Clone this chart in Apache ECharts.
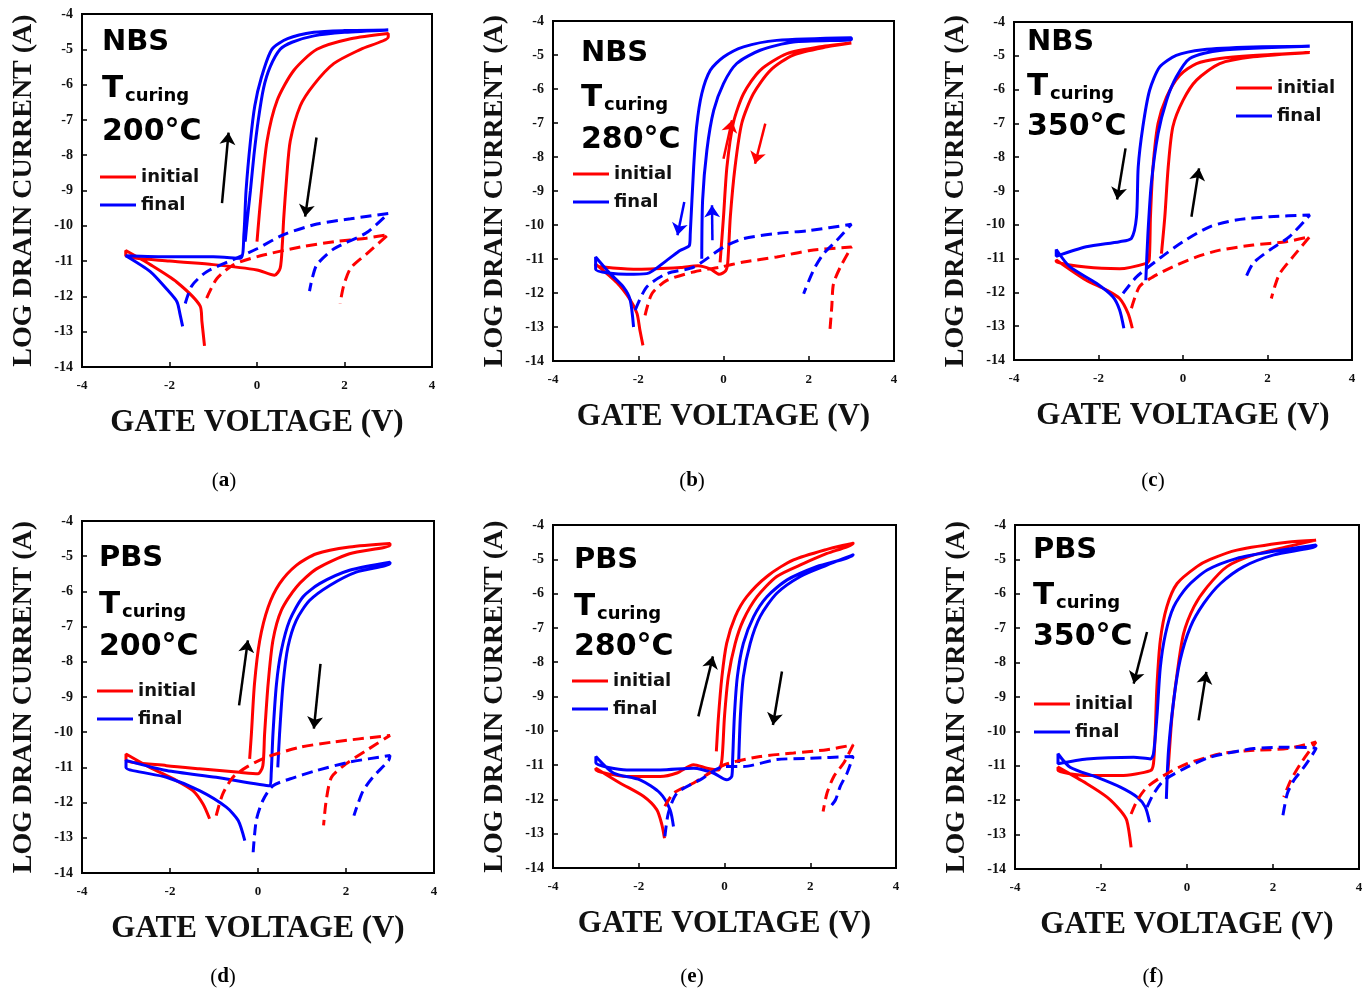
<!DOCTYPE html>
<html><head><meta charset="utf-8">
<script src="https://cdn.jsdelivr.net/npm/echarts@6/dist/echarts.min.js"></script>
<style>html,body{margin:0;padding:0;background:#fff}#c{width:1371px;height:995px}</style>
</head><body><div id="c"></div>
<script>
// ---------- DATA (gate voltage V, log drain current A) ----------
const xTicks = [-4, -2, 0, 2, 4];
const yTicks = [-14, -13, -12, -11, -10, -9, -8, -7, -6, -5, -4];
const captionLetters = ['a', 'b', 'c', 'd', 'e', 'f'];
const stressLabels = ['NBS', 'NBS', 'NBS', 'PBS', 'PBS', 'PBS'];
const curingTemps = ['200°C', '280°C', '350°C', '200°C', '280°C', '350°C'];
const legendNames = ['initial', 'final'];

// (a) NBS 200°C
const aInitial = [[-1.2,-13.4],[-1.26,-12.7],[-1.3,-12.27],[-1.83,-11.6],[-2.44,-11.1],[-3,-10.7],
  [-3,-10.85],[-2,-11.0],[-1,-11.1],[0,-11.25],[0.4,-11.4],[0.53,-11.2],[0.58,-10.5],[0.61,-9.8],[0.68,-8.6],[0.76,-7.6],[0.99,-6.6],[1.3,-6.0],[1.76,-5.4],[2.37,-5.0],[3,-4.65],
  [3,-4.55],[2.14,-4.7],[1.37,-5.0],[0.84,-5.6],[0.46,-6.45],[0.23,-7.6],[0.08,-9.3],[0,-10.45]];
const aFinal = [[-1.7,-12.85],[-1.76,-12.5],[-1.83,-12.15],[-2.06,-11.8],[-2.44,-11.3],[-3,-10.85],
  [-3,-10.85],[-2,-10.88],[-1,-10.88],[-0.38,-10.92],[-0.3,-10.25],[-0.25,-9.0],[-0.15,-7.6],[-0.05,-6.6],[0.1,-5.8],[0.34,-5.0],[0.7,-4.7],[1.3,-4.52],[2,-4.47],[3,-4.45],
  [3,-4.47],[2,-4.52],[1.3,-4.62],[0.8,-4.8],[0.53,-5.0],[0.3,-5.5],[0.15,-6.1],[0.03,-7.0],[-0.07,-8.0],[-0.15,-9.0],[-0.22,-9.8],[-0.27,-10.45]];
const aInitialGate = [[-1.15,-12.05],[-0.92,-11.5],[-0.53,-11.1],[0.08,-10.85],[1.0,-10.6],[1.76,-10.45],[2.5,-10.35],[3,-10.25],[2.5,-10.8],[2.14,-11.2],[1.98,-11.7],[1.9,-12.2]];
const aFinalGate = [[-1.64,-12.2],[-1.49,-11.7],[-1.15,-11.3],[-0.53,-10.95],[0,-10.65],[0.61,-10.25],[1.37,-9.95],[2.14,-9.8],[3,-9.65],[2.5,-10.2],[1.76,-10.65],[1.37,-11.1],[1.26,-11.5],[1.2,-11.85]];
const aArrows = [[[-0.8,-9.36],[-0.65,-7.36]], [[1.36,-7.5],[1.1,-9.74]]];

// (b) NBS 280°C
const bInitial = [[-1.89,-13.54],[-1.96,-13.1],[-2.03,-12.6],[-2.19,-12.2],[-2.5,-11.7],[-3,-11.15],
  [-3,-11.2],[-2,-11.3],[-1,-11.25],[-0.6,-11.2],[-0.3,-11.3],[-0.1,-11.45],[0.05,-11.35],[0.1,-11.1],[0.16,-9.76],[0.27,-8.3],[0.43,-7.0],[0.7,-6.14],[1.1,-5.45],[1.64,-5.0],[2.43,-4.76],[3,-4.65],
  [3,-4.67],[2.27,-4.76],[1.49,-4.96],[0.86,-5.45],[0.47,-6.14],[0.23,-7.0],[0.08,-8.3],[0,-9.76],[-0.08,-11.1]];
const bFinal = [[-2.11,-13.0],[-2.19,-12.2],[-2.35,-11.82],[-2.66,-11.43],[-3,-10.94],
  [-3,-11.3],[-2.27,-11.45],[-1.8,-11.43],[-1.33,-11.04],[-1.02,-10.75],[-0.8,-10.6],[-0.78,-10.25],[-0.7,-8.3],[-0.63,-7.1],[-0.51,-6.14],[-0.31,-5.45],[0,-5.06],[0.47,-4.76],[1.25,-4.57],[3,-4.49],
  [3,-4.55],[1.64,-4.62],[0.86,-4.86],[0.31,-5.25],[0,-5.84],[-0.23,-6.63],[-0.39,-7.8],[-0.49,-9.27],[-0.51,-10.99]];
const bInitialGate = [[-1.84,-12.66],[-1.68,-12.02],[-1.33,-11.63],[-0.7,-11.38],[-0.08,-11.24],[0.47,-11.09],[1.25,-10.94],[2.03,-10.75],[3,-10.65],[2.74,-11.24],[2.58,-11.73],[2.54,-12.41],[2.49,-13.2]];
const bFinalGate = [[-2.07,-12.5],[-1.8,-11.82],[-1.33,-11.43],[-0.7,-11.24],[0,-10.65],[0.47,-10.4],[1.25,-10.25],[2.03,-10.16],[3,-9.98],[2.66,-10.45],[2.35,-10.84],[2.11,-11.33],[1.88,-12.02]];
const bArrows = [[[0,-8.05],[0.2,-6.92]], [[0.98,-7.02],[0.74,-8.2]], [[-0.92,-9.32],[-1.08,-10.3]], [[-0.26,-10.45],[-0.27,-9.42]]];

// (c) NBS 350°C
const cInitial = [[-1.2,-13.06],[-1.3,-12.62],[-1.5,-12.18],[-1.81,-11.93],[-2.29,-11.64],[-3,-11.04],
  [-3,-11.09],[-2.3,-11.25],[-1.5,-11.3],[-0.87,-11.14],[-0.8,-11.04],[-0.77,-9.76],[-0.71,-8.29],[-0.59,-7.0],[-0.39,-6.22],[-0.08,-5.58],[0.32,-5.23],[0.87,-5.08],[1.66,-4.99],[3,-4.9],
  [3,-4.92],[1.66,-5.03],[0.87,-5.23],[0.32,-5.72],[0,-6.32],[-0.24,-7.1],[-0.35,-8.29],[-0.43,-9.76],[-0.51,-10.85]];
const cFinal = [[-1.4,-13.06],[-1.5,-12.52],[-1.66,-12.13],[-2.05,-11.73],[-2.68,-11.24],[-3,-10.73],
  [-3,-10.93],[-2.29,-10.65],[-1.5,-10.5],[-1.22,-10.4],[-1.1,-9.76],[-1.06,-8.29],[-0.95,-7.1],[-0.79,-6.02],[-0.55,-5.33],[-0.16,-4.99],[0.47,-4.82],[1.66,-4.74],[3,-4.72],
  [3,-4.74],[0.87,-4.84],[0.16,-5.08],[-0.16,-5.63],[-0.39,-6.32],[-0.59,-7.3],[-0.75,-8.78],[-0.83,-10.26],[-0.88,-11.64]];
const cInitialGate = [[-1.22,-12.47],[-1.03,-11.83],[-0.71,-11.54],[-0.24,-11.24],[0.32,-10.95],[0.87,-10.75],[1.66,-10.6],[2.44,-10.5],[3,-10.35],[2.6,-10.95],[2.29,-11.44],[2.17,-11.83],[2.09,-12.18]];
const cFinalGate = [[-1.42,-12.03],[-1.1,-11.54],[-0.55,-10.99],[0,-10.5],[0.63,-10.06],[1.26,-9.86],[2.05,-9.76],[3,-9.71],[2.52,-10.35],[2.05,-10.75],[1.66,-11.14],[1.46,-11.64]];
const cArrows = [[[-1.36,-7.74],[-1.56,-9.25]], [[0.2,-9.76],[0.38,-8.33]]];

// (d) PBS 200°C
const dInitial = [[-1.1,-12.46],[-1.25,-12.04],[-1.48,-11.66],[-1.86,-11.37],[-2.46,-11.0],[-3,-10.62],
  [-3,-10.8],[-2.08,-10.95],[-1.33,-11.04],[-0.42,-11.14],[0,-11.18],[0.11,-10.95],[0.15,-10.05],[0.23,-8.63],[0.34,-7.39],[0.53,-6.54],[0.87,-5.88],[1.33,-5.36],[2.08,-4.93],[3,-4.69],
  [3,-4.64],[2.08,-4.74],[1.33,-4.93],[0.87,-5.26],[0.49,-5.78],[0.23,-6.45],[0.04,-7.39],[-0.08,-8.63],[-0.15,-10.05],[-0.19,-10.76]];
const dFinal = [[-0.3,-13.08],[-0.45,-12.51],[-0.72,-12.13],[-1.33,-11.66],[-2.08,-11.28],[-3,-11.0],
  [-3,-10.8],[-2.08,-11.09],[-0.95,-11.28],[0.27,-11.52],[0.3,-11.18],[0.34,-10.05],[0.42,-8.63],[0.53,-7.68],[0.72,-6.82],[1.02,-6.16],[1.4,-5.78],[2.08,-5.4],[3,-5.17],
  [3,-5.21],[2.23,-5.45],[1.63,-5.83],[1.17,-6.26],[0.87,-6.82],[0.68,-7.58],[0.57,-8.63],[0.49,-10.05],[0.45,-11.0]];
const dInitialGate = [[-0.95,-12.37],[-0.8,-11.75],[-0.57,-11.28],[-0.27,-11.0],[0.19,-10.71],[0.95,-10.43],[1.7,-10.28],[3,-10.09],[2.46,-10.52],[2.0,-10.9],[1.67,-11.28],[1.55,-11.94],[1.49,-12.65]];
const dFinalGate = [[-0.11,-13.41],[-0.04,-12.51],[0.11,-11.94],[0.34,-11.52],[0.72,-11.33],[1.33,-11.09],[2.08,-10.85],[3,-10.66],[2.97,-10.8],[2.61,-11.28],[2.39,-11.66],[2.27,-12.04],[2.18,-12.37]];
const dArrows = [[[-0.43,-9.24],[-0.23,-7.39]], [[1.42,-8.06],[1.27,-9.9]]];

// (e) PBS 280°C
const eInitial = [[-1.4,-13.13],[-1.46,-12.74],[-1.58,-12.3],[-1.89,-11.91],[-2.44,-11.52],[-3,-11.09],
  [-3,-11.14],[-2.28,-11.33],[-1.5,-11.33],[-1.11,-11.23],[-0.72,-10.99],[-0.41,-11.09],[-0.14,-11.14],[-0.06,-10.84],[0,-9.58],[0.09,-8.42],[0.25,-7.45],[0.44,-6.77],[0.76,-6.09],[1.22,-5.5],[1.85,-5.12],[2.39,-4.83],[3,-4.53],
  [3,-4.51],[2.39,-4.71],[1.61,-5.02],[0.99,-5.5],[0.52,-6.09],[0.25,-6.67],[0.05,-7.45],[-0.06,-8.42],[-0.14,-9.58],[-0.19,-10.6]];
const eFinal = [[-1.19,-12.79],[-1.27,-12.3],[-1.5,-11.82],[-1.97,-11.43],[-2.59,-11.23],[-3,-10.75],
  [-3,-10.94],[-2.28,-11.14],[-1.5,-11.14],[-0.72,-11.09],[-0.26,-11.23],[0.05,-11.43],[0.17,-11.33],[0.19,-10.84],[0.23,-9.58],[0.3,-8.42],[0.44,-7.45],[0.68,-6.67],[0.99,-6.09],[1.46,-5.6],[2.16,-5.21],[3,-4.87],
  [3,-4.85],[2.39,-5.17],[1.77,-5.5],[1.22,-5.99],[0.83,-6.67],[0.6,-7.45],[0.44,-8.42],[0.37,-9.58],[0.33,-10.94]];
const eInitialGate = [[-1.39,-12.2],[-1.19,-11.82],[-0.72,-11.52],[0,-10.99],[0.83,-10.75],[1.61,-10.65],[2.39,-10.55],[3,-10.41],[2.78,-10.94],[2.55,-11.33],[2.39,-11.82],[2.3,-12.35]];
const eFinalGate = [[-1.39,-13.08],[-1.31,-12.4],[-1.11,-11.82],[-0.57,-11.43],[0,-11.04],[0.44,-11.04],[1.22,-10.84],[2.0,-10.8],[3,-10.75],[2.86,-11.23],[2.7,-11.62],[2.59,-12.01],[2.48,-12.2]];
const eArrows = [[[-0.61,-9.58],[-0.27,-7.83]], [[1.34,-8.27],[1.13,-9.83]]];

// (f) PBS 350°C
const fInitial = [[-1.3,-13.37],[-1.4,-12.59],[-1.55,-12.3],[-1.86,-11.91],[-2.33,-11.52],[-3,-11.04],
  [-3,-11.14],[-2.33,-11.28],[-1.55,-11.28],[-0.85,-11.14],[-0.78,-10.94],[-0.74,-10.07],[-0.7,-8.71],[-0.62,-7.35],[-0.47,-6.38],[-0.23,-5.7],[0.23,-5.21],[0.54,-5.0],[1.16,-4.73],[2.33,-4.5],[3,-4.44],
  [3,-4.46],[2.33,-4.63],[1.55,-4.87],[0.93,-5.21],[0.47,-5.8],[0.16,-6.38],[-0.08,-7.16],[-0.23,-8.32],[-0.35,-9.58],[-0.43,-10.94],[-0.45,-11.2]];
const fFinal = [[-0.87,-12.64],[-0.97,-12.2],[-1.16,-11.91],[-1.55,-11.62],[-2.1,-11.33],[-2.72,-11.04],[-3,-10.65],
  [-3,-10.94],[-2.33,-10.8],[-1.24,-10.75],[-0.85,-10.8],[-0.78,-10.65],[-0.7,-9.58],[-0.62,-8.13],[-0.5,-7.16],[-0.31,-6.38],[0,-5.8],[0.47,-5.31],[1.16,-4.97],[1.94,-4.78],[3,-4.58],
  [3,-4.61],[2.02,-4.87],[1.32,-5.21],[0.78,-5.7],[0.39,-6.28],[0.08,-6.96],[-0.16,-7.93],[-0.31,-9.1],[-0.43,-10.55],[-0.48,-11.96]];
const fInitialGate = [[-1.3,-12.4],[-1.16,-12.01],[-0.93,-11.62],[-0.47,-11.23],[0,-10.94],[0.78,-10.65],[1.55,-10.55],[2.33,-10.5],[3,-10.31],[2.64,-10.94],[2.41,-11.43],[2.25,-11.91]];
const fFinalGate = [[-0.93,-12.2],[-0.78,-11.82],[-0.54,-11.43],[0,-11.04],[0.54,-10.75],[1.55,-10.5],[2.33,-10.46],[3,-10.5],[2.72,-11.04],[2.48,-11.43],[2.33,-11.82],[2.21,-12.59]];
const fArrows = [[[-0.93,-7.11],[-1.24,-8.61]], [[0.27,-9.68],[0.45,-8.27]]];

// ---------- LAYOUT / STYLE ----------
const RED = '#ff0000', BLUE = '#0000ff', BLACK = '#000000';
const panels = [
  {ini:aInitial, fin:aFinal, iniG:aInitialGate, finG:aFinalGate, arr:aArrows, arrCol:[BLACK,BLACK],
   grid:{left:82,top:14,width:350,height:353}, tx:102, b1:52, b2:99, b3:142, leg:{left:100,top:167}, cap:[224,481]},
  {ini:bInitial, fin:bFinal, iniG:bInitialGate, finG:bFinalGate, arr:bArrows, arrCol:[RED,RED,BLUE,BLUE],
   grid:{left:553,top:21,width:341,height:340}, tx:581, b1:63, b2:108, b3:150, leg:{left:573,top:164}, cap:[692,481]},
  {ini:cInitial, fin:cFinal, iniG:cInitialGate, finG:cFinalGate, arr:cArrows, arrCol:[BLACK,BLACK],
   grid:{left:1014,top:22,width:338,height:338}, tx:1027, b1:52, b2:97, b3:137, leg:{left:1236,top:78}, cap:[1153,481]},
  {ini:dInitial, fin:dFinal, iniG:dInitialGate, finG:dFinalGate, arr:dArrows, arrCol:[BLACK,BLACK],
   grid:{left:82,top:521,width:352,height:352}, tx:99, b1:568, b2:615, b3:657, leg:{left:97,top:681}, cap:[223,977]},
  {ini:eInitial, fin:eFinal, iniG:eInitialGate, finG:eFinalGate, arr:eArrows, arrCol:[BLACK,BLACK],
   grid:{left:553,top:525,width:343,height:343}, tx:574, b1:570, b2:617, b3:657, leg:{left:572,top:671}, cap:[692,977]},
  {ini:fInitial, fin:fFinal, iniG:fInitialGate, finG:fFinalGate, arr:fArrows, arrCol:[BLACK,BLACK],
   grid:{left:1015,top:525,width:344,height:344}, tx:1033, b1:560, b2:606, b3:647, leg:{left:1034,top:694}, cap:[1153,977]}
];

const SERIF = '"Liberation Serif","Times New Roman",serif';
const SANS = '"DejaVu Sans",Verdana,sans-serif';

const grids = [], xAxes = [], yAxes = [], series = [], legends = [], graphics = [];
panels.forEach((p, i) => {
  grids.push(Object.assign({show:true, borderColor:BLACK, borderWidth:2, backgroundColor:'transparent'}, p.grid));
  xAxes.push({
    type:'value', gridIndex:i, min:xTicks[0], max:xTicks[xTicks.length-1], interval:2,
    name:'GATE VOLTAGE (V)', nameLocation:'middle', nameGap:40,
    nameTextStyle:{fontFamily:SERIF, fontWeight:'bold', fontSize:31, color:'#111'},
    axisLine:{show:true, onZero:false, lineStyle:{color:BLACK, width:2}},
    axisTick:{show:true, inside:true, length:5, lineStyle:{color:BLACK, width:1.5}},
    axisLabel:{fontFamily:SERIF, fontWeight:'bold', fontSize:13, color:'#111', margin:12},
    splitLine:{show:false}
  });
  yAxes.push({
    type:'value', gridIndex:i, min:yTicks[0], max:yTicks[yTicks.length-1], interval:1,
    name:'LOG DRAIN CURRENT (A)', nameLocation:'middle', nameGap:44,
    nameTextStyle:{fontFamily:SERIF, fontWeight:'bold', fontSize:28, color:'#111'},
    axisLine:{show:true, onZero:false, lineStyle:{color:BLACK, width:2}},
    axisTick:{show:true, inside:true, length:5, lineStyle:{color:BLACK, width:1.5}},
    axisLabel:{fontFamily:SERIF, fontWeight:'bold', fontSize:14, color:'#111', margin:9},
    splitLine:{show:false}
  });
  const base = {type:'line', xAxisIndex:i, yAxisIndex:i, symbol:'none', showSymbol:false, smooth:0.25, animation:false, z:3};
  series.push(Object.assign({}, base, {name:'initial', data:p.ini, lineStyle:{color:RED, width:3}, itemStyle:{color:RED}}));
  series.push(Object.assign({}, base, {name:'final', data:p.fin, lineStyle:{color:BLUE, width:3}, itemStyle:{color:BLUE}}));
  series.push(Object.assign({}, base, {name:'initial (gate)', data:p.iniG, lineStyle:{color:RED, width:3, type:[11,6]}, itemStyle:{color:RED}}));
  series.push(Object.assign({}, base, {name:'final (gate)', data:p.finG, lineStyle:{color:BLUE, width:3, type:[11,6]}, itemStyle:{color:BLUE}}));
  series.push({
    type:'lines', coordinateSystem:'cartesian2d', xAxisIndex:i, yAxisIndex:i, name:'arrows' + i,
    symbol:['none','arrow'], symbolSize:12, animation:false, z:4,
    data:p.arr.map((c, k) => ({coords:c, lineStyle:{color:p.arrCol[k], width:2.5, opacity:1}})),
    lineStyle:{width:2.5, opacity:1, curveness:0}
  });
  legends.push({
    left:p.leg.left, top:p.leg.top, orient:'vertical', padding:0, itemGap:8,
    icon:'rect', itemWidth:36, itemHeight:3, data:legendNames, selectedMode:false,
    textStyle:{fontFamily:SANS, fontWeight:'bold', fontSize:18, color:'#111', lineHeight:20}
  });
  graphics.push({type:'text', style:{x:p.tx, y:p.b1 - 0.33*29, text:stressLabels[i], font:'bold 29px ' + SANS, fill:'#000', verticalAlign:'middle'}});
  graphics.push({type:'text', style:{x:p.tx, y:p.b2 - 0.33*31, text:'T', font:'bold 31px ' + SANS, fill:'#000', verticalAlign:'middle'}});
  graphics.push({type:'text', style:{x:p.tx + 23, y:p.b2 + 3 - 0.33*18, text:'curing', font:'bold 18px ' + SANS, fill:'#000', verticalAlign:'middle'}});
  graphics.push({type:'text', style:{x:p.tx, y:p.b3 - 0.33*30, text:curingTemps[i], font:'bold 30px ' + SANS, fill:'#000', verticalAlign:'middle'}});
  graphics.push({type:'text', style:{x:p.cap[0], y:p.cap[1], text:'{p|(}{b|' + captionLetters[i] + '}{p|)}',
    align:'center', verticalAlign:'middle',
    rich:{p:{fontFamily:SERIF, fontSize:21, fontWeight:'normal', fill:'#000'},
          b:{fontFamily:SERIF, fontSize:21, fontWeight:'bold', fill:'#000'}}}});
});

const chart = echarts.init(document.getElementById('c'), null, {renderer:'canvas'});
chart.setOption({
  backgroundColor:'#ffffff', animation:false,
  grid:grids, xAxis:xAxes, yAxis:yAxes, legend:legends, series:series, graphic:graphics
});
</script></body></html>
